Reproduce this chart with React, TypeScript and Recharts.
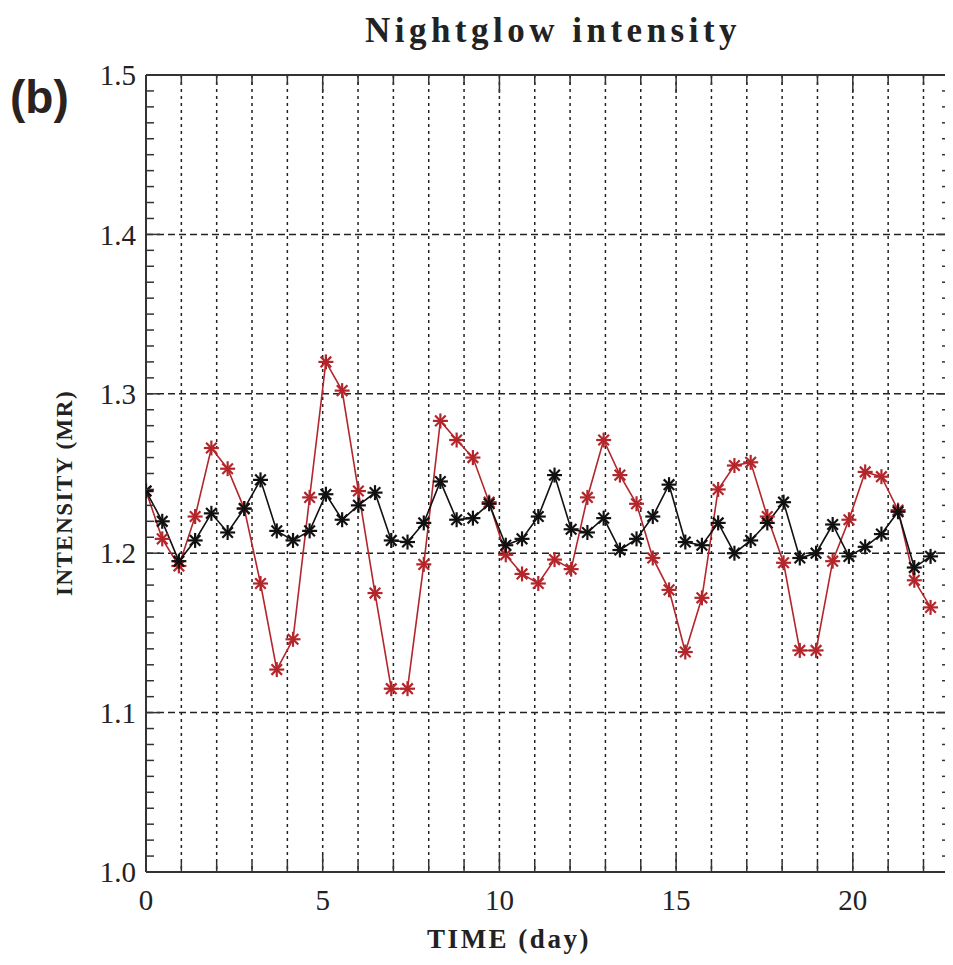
import React from "react";
import { LineChart, Line, XAxis, YAxis, CartesianGrid } from "recharts";

// time of each sample (day)
const TIME = [
  0, 0.46, 0.93, 1.39, 1.85, 2.31, 2.78, 3.24, 3.7, 4.16, 4.63, 5.09, 5.55,
  6.01, 6.48, 6.94, 7.4, 7.86, 8.33, 8.79, 9.25, 9.71, 10.18, 10.64, 11.1,
  11.56, 12.03, 12.49, 12.95, 13.41, 13.88, 14.34, 14.8, 15.26, 15.73, 16.19,
  16.65, 17.11, 17.58, 18.04, 18.5, 18.96, 19.43, 19.89, 20.35, 20.81, 21.28,
  21.74, 22.2,
];

// intensity (MR), red series
const RED = [
  1.239, 1.209, 1.192, 1.223, 1.266, 1.253, 1.228, 1.181, 1.127, 1.146, 1.235,
  1.32, 1.302, 1.239, 1.175, 1.115, 1.115, 1.193, 1.283, 1.271, 1.26, 1.232,
  1.199, 1.187, 1.181, 1.196, 1.19, 1.235, 1.271, 1.249, 1.231, 1.197, 1.177,
  1.138, 1.172, 1.24, 1.255, 1.257, 1.223, 1.194, 1.139, 1.139, 1.195, 1.221,
  1.251, 1.248, 1.227, 1.183, 1.166,
];

// intensity (MR), black series
const BLACK = [
  1.239, 1.22, 1.195, 1.208, 1.225, 1.213, 1.228, 1.246, 1.214, 1.208, 1.214,
  1.237, 1.221, 1.23, 1.238, 1.208, 1.207, 1.219, 1.245, 1.221, 1.222, 1.231,
  1.205, 1.209, 1.223, 1.249, 1.215, 1.213, 1.222, 1.202, 1.209, 1.223, 1.243,
  1.207, 1.205, 1.219, 1.2, 1.208, 1.219, 1.232, 1.197, 1.2, 1.218, 1.198,
  1.204, 1.212, 1.226, 1.191, 1.198,
];

const X_TICKS = [
  0, 1, 2, 3, 4, 5, 6, 7, 8, 9, 10, 11, 12, 13, 14, 15, 16, 17, 18, 19, 20, 21,
  22,
];
const X_GRID = X_TICKS.filter((d) => d > 0);
const Y_GRID = [1.1, 1.2, 1.3, 1.4];
// minor ticks every 0.01
const Y_TICKS = Array.from({ length: 51 }, (_, i) => Math.round(100 + i) / 100);

const RED_C = "#b3262b";
const INK = "#222";
const SERIF = "'Liberation Serif', 'DejaVu Serif', serif";

const data = TIME.map((t, i) => ({ t, red: RED[i], black: BLACK[i] }));

const isYMajor = (v: number) => Math.round(v * 100) % 10 === 0;

const BottomTick = (p: any) => {
  const v = p.payload.value;
  const major = v % 5 === 0;
  return (
    <g>
      <line x1={p.x} y1={p.y} x2={p.x} y2={p.y - (major ? 18 : 10)} stroke="#333" strokeWidth={1.5} />
      {major && (
        <text x={p.x} y={p.y + 38} textAnchor="middle" fontSize={29} fontFamily={SERIF} fill={INK}>
          {v}
        </text>
      )}
    </g>
  );
};

const TopTick = (p: any) => {
  const major = p.payload.value % 5 === 0;
  return <line x1={p.x} y1={p.y} x2={p.x} y2={p.y + (major ? 18 : 10)} stroke="#333" strokeWidth={1.5} />;
};

const LeftTick = (p: any) => {
  const v = p.payload.value;
  const major = isYMajor(v);
  return (
    <g>
      <line x1={p.x} y1={p.y} x2={p.x + (major ? 14 : 8)} y2={p.y} stroke="#333" strokeWidth={1.5} />
      {major && (
        <text x={p.x - 10} y={p.y} dy="0.35em" textAnchor="end" fontSize={29} fontFamily={SERIF} fill={INK}>
          {v.toFixed(1)}
        </text>
      )}
    </g>
  );
};

const RightTick = (p: any) => {
  const major = isYMajor(p.payload.value);
  return <line x1={p.x} y1={p.y} x2={p.x - (major ? 14 : 8)} y2={p.y} stroke="#333" strokeWidth={1.5} />;
};

const Star = ({ cx, cy, color }: { cx: number; cy: number; color: string }) => {
  const r = 7.5;
  const d = r * 0.707;
  return (
    <g stroke={color} strokeWidth={2.2}>
      <line x1={cx - r} y1={cy} x2={cx + r} y2={cy} />
      <line x1={cx} y1={cy - r} x2={cx} y2={cy + r} />
      <line x1={cx - d} y1={cy - d} x2={cx + d} y2={cy + d} />
      <line x1={cx - d} y1={cy + d} x2={cx + d} y2={cy - d} />
    </g>
  );
};

export default function App() {
  const W = 945;
  const H = 945;
  const axisLine = { stroke: "#333", strokeWidth: 2 };
  return (
    <div style={{ position: "relative", width: W, height: 949 }}>
      <LineChart width={W} height={H} data={data} margin={{ top: 66, right: 2, bottom: 41, left: 48 }}>
        <CartesianGrid
          xAxisId="b"
          yAxisId="l"
          vertical={false}
          horizontalValues={Y_GRID}
          stroke={INK}
          strokeWidth={1.5}
          strokeDasharray="7 4"
        />
        <CartesianGrid
          xAxisId="b"
          yAxisId="l"
          horizontal={false}
          verticalValues={X_GRID}
          stroke={INK}
          strokeWidth={1.5}
          strokeDasharray="3 4"
        />
        <XAxis
          xAxisId="b"
          type="number"
          dataKey="t"
          domain={[0, 22.75]}
          allowDataOverflow
          ticks={X_TICKS}
          interval={0}
          height={40}
          tickSize={0}
          tickMargin={0}
          tickLine={false}
          axisLine={axisLine}
          tick={BottomTick}
        />
        <XAxis
          xAxisId="top"
          orientation="top"
          type="number"
          dataKey="t"
          domain={[0, 22.75]}
          allowDataOverflow
          ticks={X_TICKS}
          interval={0}
          height={1}
          tickSize={0}
          tickMargin={0}
          tickLine={false}
          axisLine={axisLine}
          tick={TopTick}
        />
        <YAxis
          yAxisId="l"
          type="number"
          domain={[1.0, 1.5]}
          allowDataOverflow
          ticks={Y_TICKS}
          interval={0}
          width={90}
          tickSize={0}
          tickMargin={0}
          tickLine={false}
          axisLine={axisLine}
          tick={LeftTick}
        />
        <YAxis
          yAxisId="r"
          orientation="right"
          type="number"
          domain={[1.0, 1.5]}
          allowDataOverflow
          ticks={Y_TICKS}
          interval={0}
          width={1}
          tickSize={0}
          tickMargin={0}
          tickLine={false}
          axisLine={axisLine}
          tick={RightTick}
        />
        <Line
          xAxisId="b"
          yAxisId="l"
          dataKey="red"
          stroke={RED_C}
          strokeWidth={1.6}
          isAnimationActive={false}
          activeDot={false}
          dot={(p: any) => <Star key={`r${p.index}`} cx={p.cx} cy={p.cy} color={RED_C} />}
        />
        <Line
          xAxisId="b"
          yAxisId="l"
          dataKey="black"
          stroke="#111"
          strokeWidth={1.6}
          isAnimationActive={false}
          activeDot={false}
          dot={(p: any) => <Star key={`b${p.index}`} cx={p.cx} cy={p.cy} color="#111" />}
        />
      </LineChart>
      <svg width={W} height={949} style={{ position: "absolute", left: 0, top: 0, pointerEvents: "none" }}>
        <text x={545} y={34} textAnchor="middle" fontSize={35} fontWeight="bold" letterSpacing={4.5} fontFamily={SERIF} fill={INK}>
          Nightglow intensity
        </text>
        <text x={2} y={105} fontSize={46} fontWeight="bold" fontFamily="'Liberation Sans', Arial, sans-serif" fill="#2b2220">
          (b)
        </text>
        <text
          transform="translate(64,485) rotate(-90)"
          textAnchor="middle"
          fontSize={23}
          fontWeight="bold"
          letterSpacing={1.5}
          fontFamily={SERIF}
          fill={INK}
        >
          INTENSITY (MR)
        </text>
        <text x={501} y={940} textAnchor="middle" fontSize={27} fontWeight="bold" letterSpacing={2.5} fontFamily={SERIF} fill={INK}>
          TIME (day)
        </text>
      </svg>
    </div>
  );
}
